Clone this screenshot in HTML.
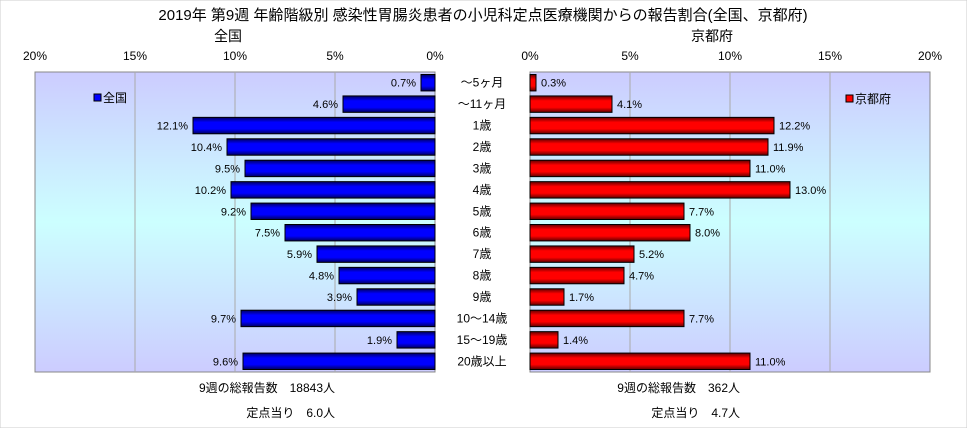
<!DOCTYPE html>
<html><head><meta charset="utf-8"><style>
body{margin:0;background:#fff;font-family:"Liberation Sans","Noto Sans CJK JP",sans-serif;}
svg text{font-family:"Liberation Sans","Noto Sans CJK JP",sans-serif;}
</style></head><body>
<svg width="967" height="428" viewBox="0 0 967 428">
<defs>
<linearGradient id="bg" x1="0" y1="0" x2="0" y2="1">
<stop offset="0" stop-color="#ccccff"/><stop offset="0.5" stop-color="#ccffff"/><stop offset="1" stop-color="#ccccff"/></linearGradient>
<linearGradient id="gb" x1="0" y1="0" x2="0" y2="1">
<stop offset="0" stop-color="#000060"/><stop offset="0.3" stop-color="#0000ff"/><stop offset="0.7" stop-color="#0000ff"/><stop offset="1" stop-color="#000060"/></linearGradient>
<linearGradient id="gr" x1="0" y1="0" x2="0" y2="1">
<stop offset="0" stop-color="#600000"/><stop offset="0.3" stop-color="#ff0000"/><stop offset="0.7" stop-color="#ff0000"/><stop offset="1" stop-color="#600000"/></linearGradient>
</defs>
<rect x="0" y="0" width="967" height="428" fill="#fff" stroke="#ccc"/>
<text x="483" y="20" text-anchor="middle" font-size="15">2019年 第9週 年齢階級別 感染性胃腸炎患者の小児科定点医療機関からの報告割合(全国、京都府)</text>
<text x="228" y="41" text-anchor="middle" font-size="14">全国</text>
<text x="712" y="41" text-anchor="middle" font-size="14">京都府</text>
<g id="g"></g>
<text x="335" y="392" text-anchor="end" font-size="12">9週の総報告数　18843人</text>
<text x="335" y="417" text-anchor="end" font-size="12">定点当り　6.0人</text>
<text x="740" y="392" text-anchor="end" font-size="12">9週の総報告数　362人</text>
<text x="740" y="417" text-anchor="end" font-size="12">定点当り　4.7人</text>
</svg>
<script>
const categories=["～5ヶ月","～11ヶ月","1歳","2歳","3歳","4歳","5歳","6歳","7歳","8歳","9歳","10～14歳","15～19歳","20歳以上"];
const zenkoku=[0.7,4.6,12.1,10.4,9.5,10.2,9.2,7.5,5.9,4.8,3.9,9.7,1.9,9.6];
const kyoto=[0.3,4.1,12.2,11.9,11.0,13.0,7.7,8.0,5.2,4.7,1.7,7.7,1.4,11.0];
const ticks=[0,5,10,15,20];
const NS="http://www.w3.org/2000/svg";
const g=document.getElementById('g');
const top0=72,bot=372,rowH=(bot-top0)/categories.length;
const xL=v=>435-v*20, xR=v=>530+v*20;
function mk(t,a,txt){const e=document.createElementNS(NS,t);for(const k in a)e.setAttribute(k,a[k]);if(txt!=null)e.textContent=txt;g.appendChild(e);return e;}
// plot areas
let e=mk('rect',{x:xL(20),y:top0,width:400,height:bot-top0,fill:'url(#bg)',stroke:'#888'});


e=mk('rect',{x:xR(0),y:top0,width:400,height:bot-top0,fill:'url(#bg)',stroke:'#888'});


ticks.forEach(t=>{
 if(t>0&&t<20){
 e=mk('line',{x1:xL(t),x2:xL(t),y1:top0,y2:bot,stroke:'#aaa'});
 
 
 e=mk('line',{x1:xR(t),x2:xR(t),y1:top0,y2:bot,stroke:'#aaa'});
 
 }
 e=mk('text',{x:xL(t),y:60,'text-anchor':'middle','font-size':12},t+'%');
 
 
 e=mk('text',{x:xR(t),y:60,'text-anchor':'middle','font-size':12},t+'%');
 
 
});
categories.forEach((c,i)=>{
 const y=top0+i*rowH+2.5,h=rowH-5,cy=top0+(i+0.5)*rowH+4;
 let b=mk('rect',{x:xL(zenkoku[i]),y:y,width:zenkoku[i]*20,height:h,fill:'url(#gb)',stroke:'#000'});
 
 
 let t=mk('text',{x:xL(zenkoku[i])-5,y:cy,'text-anchor':'end','font-size':11},zenkoku[i].toFixed(1)+'%');
 
 
 b=mk('rect',{x:xR(0),y:y,width:kyoto[i]*20,height:h,fill:'url(#gr)',stroke:'#000'});
 
 
 t=mk('text',{x:xR(kyoto[i])+5,y:cy,'font-size':11},kyoto[i].toFixed(1)+'%');
 
 
 t=mk('text',{x:482,y:cy,'text-anchor':'middle','font-size':12},c);
 
 
});
// legends
e=mk('rect',{x:94,y:94,width:7,height:7,fill:'#0000ff',stroke:'#000'});


e=mk('text',{x:103,y:102,'font-size':12},'全国');


e=mk('rect',{x:846,y:95,width:7,height:7,fill:'#ff0000',stroke:'#000'});


e=mk('text',{x:855,y:103,'font-size':12},'京都府');


</script>
</body></html>
